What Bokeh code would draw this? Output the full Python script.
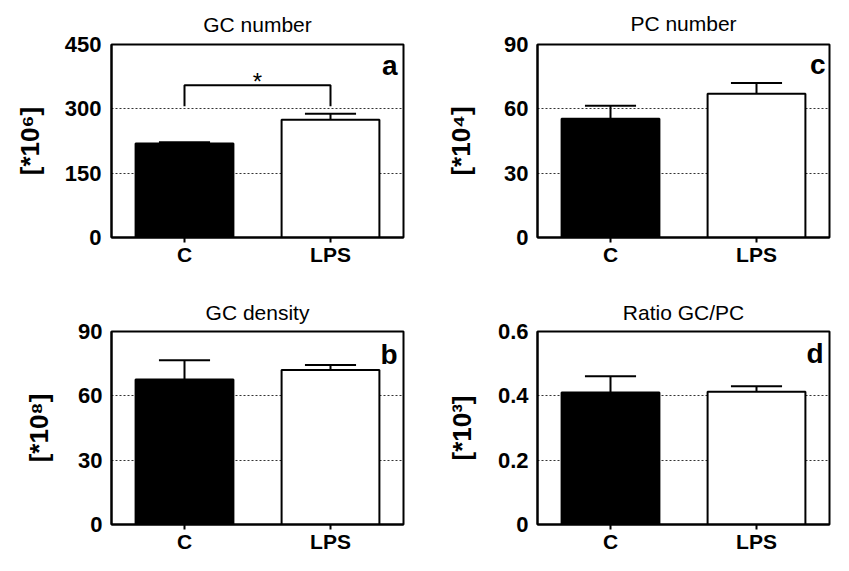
from bokeh.plotting import figure
from bokeh.layouts import gridplot
from bokeh.models import Range1d, FixedTicker, Label
from bokeh.core.properties import value
from bokeh.embed import file_html
from bokeh.resources import INLINE

# ---------------- data ----------------
groups = ["C", "LPS"]
x_pos = [1, 2]

gc_number_mean = [219, 274.5]
gc_number_sem = [3, 14]

pc_number_mean = [55.4, 67]
pc_number_sem = [6, 5]

gc_density_mean = [67.6, 72.1]
gc_density_sem = [9, 2.3]

ratio_mean = [0.41, 0.413]
ratio_sem = [0.051, 0.017]

ticks_gc_number = [0, 150, 300, 450]
ticks_pc_number = [0, 30, 60, 90]
ticks_gc_density = [0, 30, 60, 90]
ticks_ratio = [0, 0.2, 0.4, 0.6]
tick_labels_ratio = ["0", "0.2", "0.4", "0.6"]

# significance bracket (panel a)
bracket_x = [1, 1, 2, 2]
bracket_y = [306, 355, 355, 306]
star_y = 363

FONT = "Liberation Sans"
bar_colors = ["black", "white"]
FRAME_H = 195


def make_panel(title, mean, sem, ymax, ticks, tick_labels, ylabel, letter,
               frame_w, width, height, borders, letter_inset, letter_drop,
               tick_standoff, ylabel_standoff):
    bl, br, bt, bb = borders
    p = figure(width=width, height=height, output_backend="svg",
               toolbar_location=None, x_range=Range1d(0.5, 2.5),
               y_range=Range1d(0, ymax), min_border_left=bl,
               min_border_right=br, min_border_top=bt, min_border_bottom=bb,
               title=title)
    p.background_fill_color = "white"
    p.border_fill_color = "white"
    p.outline_line_color = "black"
    p.outline_line_width = 2

    p.title.text_font = FONT
    p.title.text_font_size = "21px"
    p.title.text_font_style = "normal"
    p.title.text_color = "black"
    p.title.align = "center"
    p.title.standoff = max(bt - 25.5, 0)

    p.xgrid.visible = False
    p.ygrid.grid_line_color = "black"
    p.ygrid.grid_line_dash = "2 2"
    p.ygrid.grid_line_width = 1
    p.ygrid.grid_line_alpha = 0.8

    p.xaxis.ticker = FixedTicker(ticks=x_pos)
    p.xaxis.major_label_overrides = {x: g for x, g in zip(x_pos, groups)}
    p.xaxis.major_tick_out = 5
    p.xaxis.major_tick_in = 0
    p.xaxis.major_tick_line_width = 2
    p.xaxis.minor_tick_line_color = None
    p.xaxis.axis_line_width = 2
    p.xaxis.major_label_standoff = 0
    p.xaxis.major_label_text_font = FONT
    p.xaxis.major_label_text_font_size = "21px"
    p.xaxis.major_label_text_font_style = "bold"
    p.xaxis.major_label_text_color = "black"

    p.yaxis.ticker = FixedTicker(ticks=ticks)
    p.yaxis.major_label_overrides = {t: l for t, l in zip(ticks, tick_labels)}
    p.yaxis.major_tick_out = 0
    p.yaxis.major_tick_in = 0
    p.yaxis.minor_tick_line_color = None
    p.yaxis.axis_line_width = 2
    p.yaxis.major_label_standoff = tick_standoff
    p.yaxis.major_label_text_font = FONT
    p.yaxis.major_label_text_font_size = "22px"
    p.yaxis.major_label_text_font_style = "bold"
    p.yaxis.major_label_text_color = "black"
    p.yaxis.axis_label = ylabel
    p.yaxis.axis_label_text_font = FONT
    p.yaxis.axis_label_text_font_size = "26px"
    p.yaxis.axis_label_text_font_style = "bold"
    p.yaxis.axis_label_text_color = "black"
    p.yaxis.axis_label_standoff = ylabel_standoff

    p.vbar(x=x_pos, top=mean, bottom=0, width=0.67, fill_color=bar_colors,
           line_color="black", line_width=2)

    err_top = [m + s for m, s in zip(mean, sem)]
    p.segment(x0=x_pos, y0=mean, x1=x_pos, y1=err_top, line_color="black",
              line_width=2)
    p.segment(x0=[x - 0.175 for x in x_pos], y0=err_top,
              x1=[x + 0.175 for x in x_pos], y1=err_top, line_color="black",
              line_width=2)

    # panel letter (inside the frame, top right)
    p.add_layout(Label(x=frame_w - letter_inset, y=FRAME_H - letter_drop,
                       x_units="screen", y_units="screen", text=letter,
                       text_align="right", text_baseline="alphabetic",
                       text_font=FONT, text_font_size="28px",
                       text_font_style="bold", text_color="black"))
    return p


pa = make_panel("GC number", gc_number_mean, gc_number_sem, 450,
                ticks_gc_number, [str(t) for t in ticks_gc_number],
                "[*10\u2076]", "a", 294, 418, 290, (111, 13, 42, 53),
                8, 23, 10, 17)
pa.line(x=bracket_x, y=bracket_y, line_color="black", line_width=2)
pa.text(x=[1.5], y=[star_y], text=["*"], text_align="center",
        text_baseline="alphabetic", text_font=value(FONT),
        text_font_size="24px", text_color="black")

pc = make_panel("PC number", pc_number_mean, pc_number_sem, 90,
                ticks_pc_number, [str(t) for t in ticks_pc_number],
                "[*10\u2074]", "c", 292, 415, 290, (119, 4, 44, 51),
                4, 22, 9, 25)

pb = make_panel("GC density", gc_density_mean, gc_density_sem, 90,
                ticks_gc_density, [str(t) for t in ticks_gc_density],
                "[*10\u2078]", "b", 294, 418, 265, (109, 15, 41, 29),
                8, 25, 9, 21)

pd_ = make_panel("Ratio GC/PC", ratio_mean, ratio_sem, 0.6,
                 ticks_ratio, tick_labels_ratio,
                 "[*10\u00b3]", "d", 292, 415, 265, (119, 4, 41, 29),
                 6, 24, 9, 18)

grid = gridplot([[pa, pc], [pb, pd_]], toolbar_location=None)

open("out.html", "w").write(file_html(grid, INLINE))
